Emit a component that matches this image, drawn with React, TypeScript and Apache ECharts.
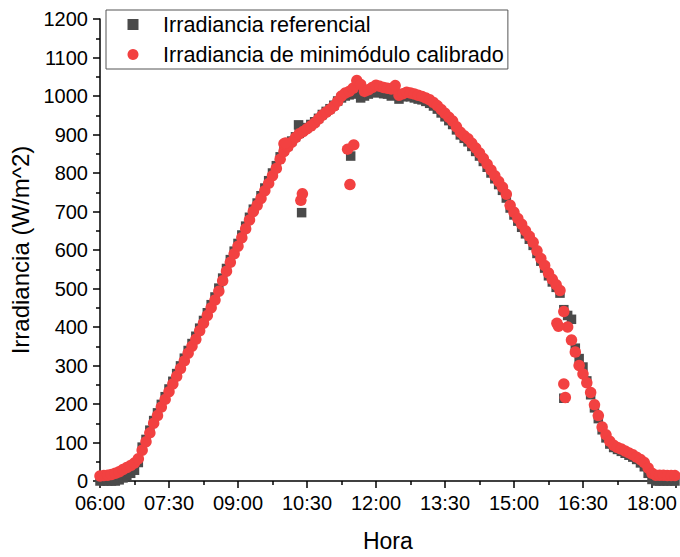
import React, { useEffect, useRef } from "react";
import * as echarts from "echarts";

const seriesNames = ["Irradiancia referencial", "Irradiancia de minimódulo calibrado"];
const xTitle = "Hora";
const yTitle = "Irradiancia (W/m^2)";

// Reference irradiance (grey squares): [time, W/m^2]
const referencial: [string, number][] = [
  ["06:00", 0], ["06:05", 0], ["06:10", 0], ["06:15", 0], ["06:20", 0], ["06:25", 3],
  ["06:30", 8], ["06:35", 14], ["06:40", 20], ["06:45", 28], ["06:50", 48], ["06:55", 88],
  ["07:00", 108], ["07:05", 132], ["07:10", 157], ["07:15", 177], ["07:20", 199], ["07:25", 219],
  ["07:30", 239], ["07:35", 259], ["07:40", 279], ["07:45", 299], ["07:50", 319], ["07:55", 339],
  ["08:00", 357], ["08:05", 376], ["08:10", 397], ["08:15", 417], ["08:20", 437], ["08:25", 458],
  ["08:30", 478], ["08:35", 501], ["08:40", 527], ["08:45", 552], ["08:50", 575], ["08:55", 597],
  ["09:00", 617], ["09:05", 639], ["09:10", 662], ["09:15", 685], ["09:20", 706], ["09:25", 722],
  ["09:30", 741], ["09:35", 761], ["09:40", 780], ["09:45", 800], ["09:50", 819], ["09:55", 842],
  ["10:00", 860], ["10:05", 871], ["10:10", 883], ["10:15", 894], ["10:20", 903], ["10:25", 911],
  ["10:30", 918], ["10:35", 926], ["10:40", 933], ["10:45", 942], ["10:50", 952], ["10:55", 960],
  ["11:00", 967], ["11:05", 976], ["11:10", 987], ["11:15", 995], ["11:20", 1000], ["11:25", 1003],
  ["11:30", 1005], ["11:35", 1010], ["11:40", 995], ["11:45", 1000], ["11:50", 1005], ["11:55", 1010],
  ["12:00", 1008], ["12:05", 1010], ["12:10", 1006], ["12:15", 1005], ["12:20", 1000], ["12:25", 1005],
  ["12:30", 992], ["12:35", 998], ["12:40", 1000], ["12:45", 998], ["12:50", 995], ["12:55", 992],
  ["13:00", 990], ["13:05", 986], ["13:10", 981], ["13:15", 974], ["13:20", 966], ["13:25", 956],
  ["13:30", 946], ["13:35", 936], ["13:40", 926], ["13:45", 912], ["13:50", 899], ["13:55", 890],
  ["14:00", 881], ["14:05", 869], ["14:10", 856], ["14:15", 844], ["14:20", 830], ["14:25", 815],
  ["14:30", 800], ["14:35", 785], ["14:40", 770], ["14:45", 755], ["14:50", 735], ["14:55", 709],
  ["15:00", 691], ["15:05", 675], ["15:10", 659], ["15:15", 642], ["15:20", 628], ["15:25", 612],
  ["15:30", 591], ["15:35", 571], ["15:40", 553], ["15:45", 533], ["15:50", 517], ["15:55", 503],
  ["16:00", 488], ["16:05", 445], ["16:10", 430], ["16:15", 420], ["16:20", 345], ["16:25", 318],
  ["16:30", 296], ["16:35", 260], ["16:40", 224], ["16:45", 190], ["16:50", 162], ["16:55", 133],
  ["17:00", 112], ["17:05", 96], ["17:10", 87], ["17:15", 82], ["17:20", 77], ["17:25", 72],
  ["17:30", 67], ["17:35", 62], ["17:40", 56], ["17:45", 47], ["17:50", 37], ["17:55", 20],
  ["18:00", 4], ["18:05", 0], ["18:10", 0], ["18:15", 0], ["18:20", 0], ["18:25", 0], ["18:30", 0],
];
const referencialOutliers: [string, number][] = [
  ["10:19", 925], ["10:23", 697], ["11:27", 844], ["16:05", 215],
];

// Calibrated mini-module irradiance (red circles): [time, W/m^2]
const calibrado: [string, number][] = [
  ["06:00", 13], ["06:05", 14], ["06:10", 15], ["06:15", 17], ["06:20", 20], ["06:25", 24],
  ["06:30", 30], ["06:35", 35], ["06:40", 40], ["06:45", 47], ["06:50", 58], ["06:55", 80],
  ["07:00", 102], ["07:05", 125], ["07:10", 150], ["07:15", 170], ["07:20", 192], ["07:25", 212],
  ["07:30", 232], ["07:35", 252], ["07:40", 272], ["07:45", 292], ["07:50", 312], ["07:55", 332],
  ["08:00", 350], ["08:05", 368], ["08:10", 390], ["08:15", 410], ["08:20", 430], ["08:25", 450],
  ["08:30", 470], ["08:35", 493], ["08:40", 520], ["08:45", 545], ["08:50", 568], ["08:55", 590],
  ["09:00", 610], ["09:05", 632], ["09:10", 655], ["09:15", 678], ["09:20", 700], ["09:25", 716],
  ["09:30", 734], ["09:35", 754], ["09:40", 773], ["09:45", 793], ["09:50", 812], ["09:55", 836],
  ["10:00", 856], ["10:05", 868], ["10:10", 880], ["10:15", 892], ["10:20", 902], ["10:25", 908],
  ["10:30", 915], ["10:35", 922], ["10:40", 930], ["10:45", 940], ["10:50", 950], ["10:55", 958],
  ["11:00", 965], ["11:05", 974], ["11:10", 986], ["11:15", 1000], ["11:20", 1008], ["11:25", 1012],
  ["11:30", 1020], ["11:35", 1040], ["11:40", 1030], ["11:45", 1012], ["11:50", 1016], ["11:55", 1022],
  ["12:00", 1028], ["12:05", 1025], ["12:10", 1022], ["12:15", 1020], ["12:20", 1018], ["12:25", 1027],
  ["12:30", 1002], ["12:35", 1006], ["12:40", 1010], ["12:45", 1008], ["12:50", 1005], ["12:55", 1002],
  ["13:00", 999], ["13:05", 995], ["13:10", 990], ["13:15", 983], ["13:20", 975], ["13:25", 965],
  ["13:30", 955], ["13:35", 945], ["13:40", 935], ["13:45", 920], ["13:50", 906], ["13:55", 897],
  ["14:00", 889], ["14:05", 877], ["14:10", 865], ["14:15", 852], ["14:20", 838], ["14:25", 823],
  ["14:30", 808], ["14:35", 793], ["14:40", 778], ["14:45", 763], ["14:50", 745], ["14:55", 716],
  ["15:00", 698], ["15:05", 682], ["15:10", 667], ["15:15", 650], ["15:20", 636], ["15:25", 620],
  ["15:30", 598], ["15:35", 578], ["15:40", 560], ["15:45", 540], ["15:50", 524], ["15:55", 510],
  ["16:00", 495], ["16:05", 440], ["16:10", 400], ["16:15", 366], ["16:20", 335], ["16:25", 300],
  ["16:30", 278], ["16:35", 255], ["16:40", 230], ["16:45", 198], ["16:50", 170], ["16:55", 140],
  ["17:00", 120], ["17:05", 103], ["17:10", 93], ["17:15", 87], ["17:20", 83], ["17:25", 78],
  ["17:30", 73], ["17:35", 68], ["17:40", 62], ["17:45", 56], ["17:50", 48], ["17:55", 34],
  ["18:00", 20], ["18:05", 15], ["18:10", 15], ["18:15", 15], ["18:20", 14], ["18:25", 14], ["18:30", 14],
];
const calibradoOutliers: [string, number][] = [
  ["10:00", 876], ["10:02", 878], ["10:22", 729], ["10:24", 746],
  ["11:23", 862], ["11:26", 770], ["11:31", 873],
  ["15:56", 410], ["15:58", 402], ["16:05", 252], ["16:07", 217],
];

const toMin = (t: string) => {
  const [h, m] = t.split(":").map(Number);
  return h * 60 + m;
};
const fmt = (v: number) => {
  const h = Math.floor(v / 60);
  const m = Math.round(v - h * 60);
  return `${String(h).padStart(2, "0")}:${String(m).padStart(2, "0")}`;
};

export default function App() {
  const ref = useRef<HTMLDivElement>(null);
  useEffect(() => {
    if (!ref.current) return;
    const chart = echarts.init(ref.current, undefined, { renderer: "svg" });
    const font = "Arial, 'Liberation Sans', sans-serif";
    chart.setOption({
      animation: false,
      backgroundColor: "#fff",
      textStyle: { fontFamily: font },
      grid: { left: 100, right: 3, top: 19, bottom: 73, containLabel: false },
      legend: {
        orient: "vertical",
        left: 106,
        top: 10,
        padding: [3.5, 4, 3.5, 21.5],
        itemGap: 8,
        itemWidth: 11,
        itemHeight: 11,
        backgroundColor: "#fff",
        borderColor: "#555",
        borderWidth: 1,
        borderRadius: 0,
        data: [
          { name: seriesNames[0], icon: "rect" },
          { name: seriesNames[1], icon: "circle" },
        ],
        textStyle: {
          fontFamily: font,
          fontSize: 21.6,
          lineHeight: 21,
          color: "#000",
          padding: [0, 0, 0, 19.5],
        },
      },
      xAxis: {
        type: "value",
        min: 360,
        max: 1111,
        interval: 90,
        name: xTitle,
        nameLocation: "middle",
        nameGap: 48,
        nameTextStyle: { fontFamily: font, fontSize: 23, color: "#000" },
        axisLine: { show: true, onZero: false, lineStyle: { color: "#000", width: 1.5 } },
        axisTick: { show: true, inside: false, length: 7, lineStyle: { color: "#000", width: 1.5 } },
        minorTick: { show: true, splitNumber: 2, length: 4, lineStyle: { color: "#000", width: 1.5 } },
        splitLine: { show: false },
        axisLabel: {
          formatter: (v: number) => fmt(v),
          fontFamily: font,
          fontSize: 20,
          color: "#000",
          margin: 12,
          showMaxLabel: false,
        },
      },
      yAxis: {
        type: "value",
        min: 0,
        max: 1200,
        interval: 100,
        name: yTitle,
        nameLocation: "middle",
        nameGap: 59,
        nameTextStyle: { fontFamily: font, fontSize: 24, color: "#000" },
        axisLine: { show: true, lineStyle: { color: "#000", width: 1.5 } },
        axisTick: { show: true, inside: false, length: 7, lineStyle: { color: "#000", width: 1.5 } },
        minorTick: { show: true, splitNumber: 2, length: 4, lineStyle: { color: "#000", width: 1.5 } },
        splitLine: { show: false },
        axisLabel: {
          formatter: (v: number) => String(v),
          fontFamily: font,
          fontSize: 20,
          color: "#000",
          margin: 12,
        },
      },
      series: [
        {
          name: seriesNames[0],
          type: "scatter",
          symbol: "rect",
          symbolSize: 9.5,
          itemStyle: { color: "#4a4a4a", opacity: 1 },
          data: [...referencial, ...referencialOutliers].map(([t, v]) => [toMin(t), v]),
          z: 2,
        },
        {
          name: seriesNames[1],
          type: "scatter",
          symbol: "circle",
          symbolSize: 11.5,
          itemStyle: { color: "#f24141", opacity: 1 },
          data: [...calibrado, ...calibradoOutliers].map(([t, v]) => [toMin(t), v]),
          z: 3,
        },
      ],
    });
    return () => chart.dispose();
  }, []);
  return (
    <div
      ref={ref}
      style={{ position: "absolute", left: 0, top: 0, width: 680, height: 557 }}
    />
  );
}
